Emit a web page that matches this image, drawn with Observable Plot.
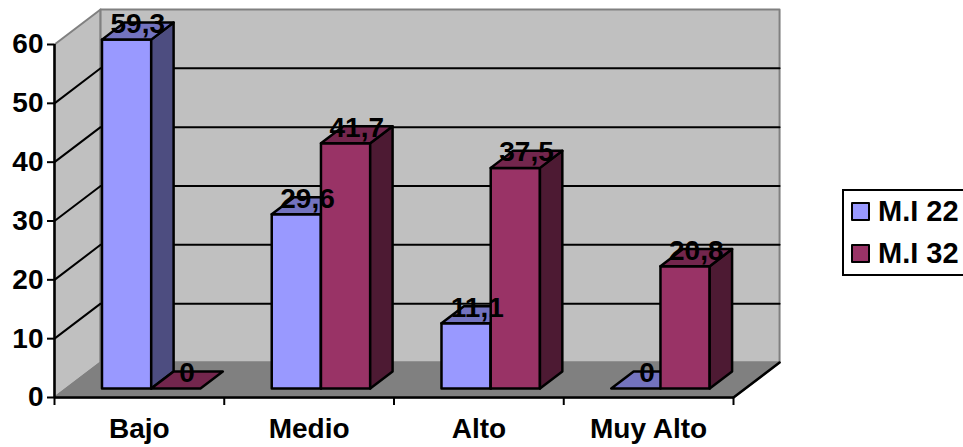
<!DOCTYPE html>
<html>
<head>
<meta charset="utf-8">
<script src="https://cdn.jsdelivr.net/npm/d3@7"></script>
<script src="https://cdn.jsdelivr.net/npm/@observablehq/plot@0.6"></script>
<style>
html,body{margin:0;padding:0;background:#fff;overflow:hidden;width:963px;height:447px}
#wrap{position:relative;width:963px;height:447px}
#legend{position:absolute;left:842px;top:189px;width:130px;height:87px;border:2.5px solid #000;box-sizing:border-box;background:#fff;font:bold 29px "Liberation Sans",Arial,sans-serif;color:#000}
.row{position:absolute;left:7px;display:flex;align-items:center;height:30px;white-space:nowrap}
.sw{width:15px;height:15px;border:2px solid #000;margin-right:8px;flex:none;border-radius:1px}
</style>
</head>
<body>
<div id="wrap"></div>
<script>
const categories = ["Bajo", "Medio", "Alto", "Muy Alto"];
const seriesNames = ["M.I 22", "M.I 32"];
const mi22 = [59.3, 29.6, 11.1, 0];
const mi32 = [0, 41.7, 37.5, 20.8];
const yTicks = [0, 10, 20, 30, 40, 50, 60];
const frontColors = ["#9999FF", "#993366"];
const sideColors = ["#4D4D80", "#4D1A33"];
const topColors = ["#7373BF", "#73264D"];
const wallColor = "#C0C0C0";
const floorColor = "#808080";

// oblique projection, in data units
const depthX = 0.2714, depthY = 5.95;
const P = (c, v, d) => ({x: c + d * depthX, y: v + d * depthY});
const poly = (id, fill, stroke, pts) => pts.map(([c, v, d]) => ({id, fill, stroke, ...P(c, v, d)}));

const maxC = categories.length, maxV = 60;
const walls = [
  ...poly("left", wallColor, floorColor, [[0,0,0],[0,0,1],[0,maxV,1],[0,maxV,0]]),
  ...poly("back", wallColor, floorColor, [[0,0,1],[maxC,0,1],[maxC,maxV,1],[0,maxV,1]]),
  ...poly("floor", floorColor, floorColor, [[0,0,0],[maxC,0,0],[maxC,0,1],[0,0,1]])
];
const gridLines = yTicks.filter(v => v > 0 && v < maxV).flatMap(v =>
  [[0,v,0],[0,v,1],[maxC,v,1]].map(([c,val,d]) => ({id: v, ...P(c,val,d)})));
const floorEdge = [[maxC,0,0],[maxC,0,1]].map(([c,v,d]) => P(c,v,d));

const gap = 0.21, barW = 0.29, d0 = 0.257, d1 = 0.743;
const bars = [];
const labels = [];
[mi22, mi32].forEach((vals, s) => vals.forEach((v, i) => {
  const a = i + gap + s * barW, b = a + barW, id = s + "-" + i;
  if (v > 0) {
    bars.push(...poly(id+"f", frontColors[s], "#000", [[a,0,d0],[b,0,d0],[b,v,d0],[a,v,d0]]));
    bars.push(...poly(id+"s", sideColors[s], "#000", [[b,0,d0],[b,0,d1],[b,v,d1],[b,v,d0]]));
  }
  bars.push(...poly(id+"t", topColors[s], "#000", [[a,v,d0],[b,v,d0],[b,v,d1],[a,v,d1]]));
  labels.push({...P((a+b)/2, v, 0.5), text: String(v).replace(".", ",")});
}));

const polyMark = (data, sw) => Plot.line(data, {
  x: "x", y: "y", z: "id", curve: "linear-closed",
  fill: {value: "fill", scale: null}, stroke: {value: "stroke", scale: null},
  strokeWidth: sw
});

const font = '"Liberation Sans", Arial, sans-serif';
const chart = Plot.plot({
  width: 963, height: 447,
  marginLeft: 54, marginRight: 230, marginTop: 44, marginBottom: 50,
  x: {domain: [0, maxC]},
  y: {domain: [0, maxV]},
  style: {fontFamily: font, color: "#000", background: "#fff", overflow: "visible"},
  marks: [
    polyMark(walls, 2),
    Plot.line(gridLines, {x: "x", y: "y", z: "id", stroke: "#000", strokeWidth: 2}),
    Plot.line(floorEdge, {x: "x", y: "y", stroke: "#000", strokeWidth: 2.5}),
    polyMark(bars, 2.5),
    Plot.ruleX([0], {y1: 0, y2: maxV, stroke: "#000", strokeWidth: 2.5}),
    Plot.ruleY([0], {x1: 0, x2: maxC, stroke: "#000", strokeWidth: 2.5}),
    Plot.axisY({ticks: yTicks, tickSize: 7, tickPadding: 4, label: null, fontSize: 28, fontWeight: "bold", stroke: "#000", strokeWidth: 2, strokeOpacity: 1, fill: "#000", marginLeft: 54}),
    Plot.axisX({ticks: d3.range(0, maxC + 1), tickSize: 8, tickFormat: () => "", label: null, strokeWidth: 2, strokeOpacity: 1}),
    Plot.axisX({ticks: categories.map((_, i) => i + 0.5), tickSize: 0, tickPadding: 21, tickFormat: v => categories[v - 0.5], label: null, fontSize: 28, fontWeight: "bold", fill: "#000"}),
    Plot.text(labels, {x: "x", y: "y", text: "text", dy: -7, fontSize: 28, fontWeight: "bold", fill: "#000"})
  ]
});
const wrap = document.getElementById("wrap");
wrap.appendChild(chart);

const legend = document.createElement("div");
legend.id = "legend";
seriesNames.forEach((name, s) => {
  const row = document.createElement("div");
  row.className = "row";
  row.style.top = (5 + s * 42) + "px";
  const sw = document.createElement("span");
  sw.className = "sw";
  sw.style.background = frontColors[s];
  row.appendChild(sw);
  row.appendChild(document.createTextNode(name));
  legend.appendChild(row);
});
wrap.appendChild(legend);
</script>
</body>
</html>
